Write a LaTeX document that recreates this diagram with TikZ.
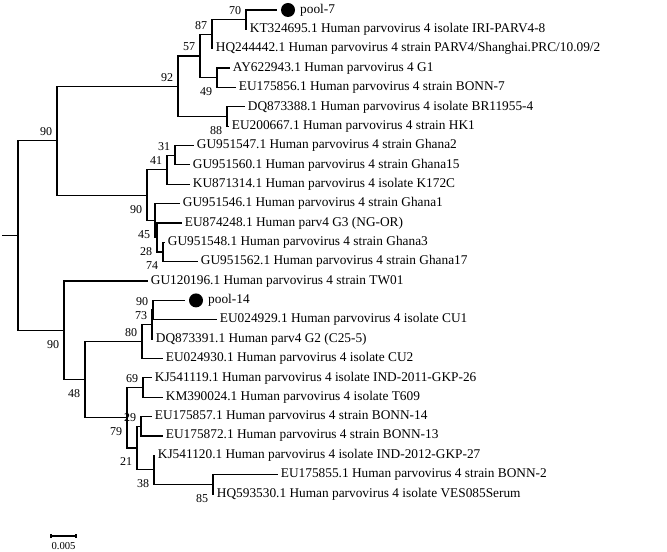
\documentclass[tikz,border=0pt]{standalone}
\usepackage{fontspec}
\setmainfont{Liberation Serif}
\usetikzlibrary{positioning}

\begin{document}
\begin{tikzpicture}[
    x=0.75pt, y=-0.75pt,
    branch/.style={line width=0.9pt},
    leaf/.style={anchor=west, inner sep=2pt, font=\fontsize{10}{12}\selectfont},
    sample/.style={circle, fill=black, minimum size=10.5pt, inner sep=0pt},
    boot above/.style={anchor=east, inner sep=1pt, xshift=-2.4pt, yshift=6.75pt, font=\fontsize{9}{10}\selectfont},
    boot below/.style={anchor=east, inner sep=1pt, xshift=-2.4pt, yshift=-10.5pt, font=\fontsize{9}{10}\selectfont}
]
\useasboundingbox (0,0) rectangle (667,552);

% Internal nodes
\coordinate (stub) at (2,235.5);
\coordinate (root) at (18,235.5);
\coordinate (nA) at (57,140.68);
\coordinate (n92) at (178,86.23);
\coordinate (n57) at (200,55.98);
\coordinate (n87) at (212,34.2);
\coordinate (n70) at (246,19.68);
\coordinate (n49) at (217,77.76);
\coordinate (n88) at (227,116.48);
\coordinate (n90g) at (147,195.13);
\coordinate (n41) at (167,169.72);
\coordinate (n31) at (175,155.2);
\coordinate (n45) at (155,220.54);
\coordinate (n28) at (157,237.48);
\coordinate (n74) at (163,252);
\coordinate (nB) at (64,330.35);
\coordinate (n48) at (85,379.66);
\coordinate (n80) at (142,341.54);
\coordinate (n73) at (152,324.6);
\coordinate (n90p) at (153,310.08);
\coordinate (n79) at (127,417.77);
\coordinate (n69) at (143,387.52);
\coordinate (n21) at (137,448.02);
\coordinate (n29) at (141,426.24);
\coordinate (n38) at (154,469.8);
\coordinate (n85) at (213,484.32);

% Leaves
\node[sample] (dot7) at (288,10) {};
\node[leaf, right=1.5pt of dot7] (pool7) {pool-7};
\node[leaf] (kt324695) at (247,29.36) {KT324695.1 Human parvovirus 4 isolate IRI-PARV4-8};
\node[leaf] (hq244442) at (213,48.72) {HQ244442.1 Human parvovirus 4 strain PARV4/Shanghai.PRC/10.09/2};
\node[leaf] (ay622943) at (230,68.08) {AY622943.1 Human parvovirus 4 G1};
\node[leaf] (eu175856) at (236,87.44) {EU175856.1 Human parvovirus 4 strain BONN-7};
\node[leaf] (dq873388) at (245,106.8) {DQ873388.1 Human parvovirus 4 isolate BR11955-4};
\node[leaf] (eu200667) at (229,126.16) {EU200667.1 Human parvovirus 4 strain HK1};
\node[leaf] (gu951547) at (194,145.52) {GU951547.1 Human parvovirus 4 strain Ghana2};
\node[leaf] (gu951560) at (190,164.88) {GU951560.1 Human parvovirus 4 strain Ghana15};
\node[leaf] (ku871314) at (190,184.24) {KU871314.1 Human parvovirus 4 isolate K172C};
\node[leaf] (gu951546) at (180,203.6) {GU951546.1 Human parvovirus 4 strain Ghana1};
\node[leaf] (eu874248) at (182,222.96) {EU874248.1 Human parv4 G3 (NG-OR)};
\node[leaf] (gu951548) at (165,242.32) {GU951548.1 Human parvovirus 4 strain Ghana3};
\node[leaf] (gu951562) at (198,261.68) {GU951562.1 Human parvovirus 4 strain Ghana17};
\node[leaf] (gu120196) at (148,281.04) {GU120196.1 Human parvovirus 4 strain TW01};
\node[sample] (dot14) at (196,300.4) {};
\node[leaf, right=1.5pt of dot14] (pool14) {pool-14};
\node[leaf] (eu024929) at (217,319.76) {EU024929.1 Human parvovirus 4 isolate CU1};
\node[leaf] (dq873391) at (153,339.12) {DQ873391.1 Human parv4 G2 (C25-5)};
\node[leaf] (eu024930) at (163,358.48) {EU024930.1 Human parvovirus 4 isolate CU2};
\node[leaf] (kj541119) at (152,377.84) {KJ541119.1 Human parvovirus 4 isolate IND-2011-GKP-26};
\node[leaf] (km390024) at (163,397.2) {KM390024.1 Human parvovirus 4 isolate T609};
\node[leaf] (eu175857) at (152,416.56) {EU175857.1 Human parvovirus 4 strain BONN-14};
\node[leaf] (eu175872) at (163,435.92) {EU175872.1 Human parvovirus 4 strain BONN-13};
\node[leaf] (kj541120) at (155,455.28) {KJ541120.1 Human parvovirus 4 isolate IND-2012-GKP-27};
\node[leaf] (eu175855) at (278,474.64) {EU175855.1 Human parvovirus 4 strain BONN-2};
\node[leaf] (hq593530) at (214,494) {HQ593530.1 Human parvovirus 4 isolate VES085Serum};

% Branches
\draw[branch] (stub) -- (root);
\draw[branch] (root) |- (nA);
\draw[branch] (root) |- (nB);
\draw[branch] (nA) |- (n92);
\draw[branch] (nA) |- (n90g);
\draw[branch] (n92) |- (n57);
\draw[branch] (n92) |- (n88);
\draw[branch] (n57) |- (n87);
\draw[branch] (n57) |- (n49);
\draw[branch] (n87) |- (n70);
\draw[branch] (n87) |- (hq244442);
\draw[branch, shorten >=3pt] (n70) |- (dot7);
\draw[branch] (n70) |- (kt324695);
\draw[branch] (n49) |- (ay622943);
\draw[branch] (n49) |- (eu175856);
\draw[branch] (n88) |- (dq873388);
\draw[branch] (n88) |- (eu200667);
\draw[branch] (n90g) |- (n41);
\draw[branch] (n90g) |- (n45);
\draw[branch] (n41) |- (n31);
\draw[branch] (n41) |- (ku871314);
\draw[branch] (n31) |- (gu951547);
\draw[branch] (n31) |- (gu951560);
\draw[branch] (n45) |- (gu951546);
\draw[branch] (n45) |- (n28);
\draw[branch] (n28) |- (eu874248);
\draw[branch] (n28) |- (n74);
\draw[branch] (n74) |- (gu951548);
\draw[branch] (n74) |- (gu951562);
\draw[branch] (nB) |- (gu120196);
\draw[branch] (nB) |- (n48);
\draw[branch] (n48) |- (n80);
\draw[branch] (n48) |- (n79);
\draw[branch] (n80) |- (n73);
\draw[branch] (n80) |- (eu024930);
\draw[branch] (n73) |- (n90p);
\draw[branch] (n73) |- (dq873391);
\draw[branch, shorten >=3pt] (n90p) |- (dot14);
\draw[branch] (n90p) |- (eu024929);
\draw[branch] (n79) |- (n69);
\draw[branch] (n79) |- (n21);
\draw[branch] (n69) |- (kj541119);
\draw[branch] (n69) |- (km390024);
\draw[branch] (n21) |- (n29);
\draw[branch] (n21) |- (n38);
\draw[branch] (n29) |- (eu175857);
\draw[branch] (n29) |- (eu175872);
\draw[branch] (n38) |- (kj541120);
\draw[branch] (n38) |- (n85);
\draw[branch] (n85) |- (eu175855);
\draw[branch] (n85) |- (hq593530);

% Bootstrap values
\node[boot above] (b70) at (n70) {70};
\node[boot above] (b87) at (n87) {87};
\node[boot above] (b57) at (n57) {57};
\node[boot below] (b49) at (n49) {49};
\node[boot above] (b92) at (n92) {92};
\node[boot below] (b88) at (n88) {88};
\node[boot above] (bA) at (nA) {90};
\node[boot above] (b31) at (n31) {31};
\node[boot above] (b41) at (n41) {41};
\node[boot below] (b90g) at (n90g) {90};
\node[boot below] (b45) at (n45) {45};
\node[boot below] (b28) at (n28) {28};
\node[boot below] (b74) at (n74) {74};
\node[boot below] (bB) at (nB) {90};
\node[boot above] (b90p) at (n90p) {90};
\node[boot above] (b73) at (n73) {73};
\node[boot above] (b80) at (n80) {80};
\node[boot below] (b48) at (n48) {48};
\node[boot above] (b69) at (n69) {69};
\node[boot below] (b79) at (n79) {79};
\node[boot above] (b29) at (n29) {29};
\node[boot below] (b21) at (n21) {21};
\node[boot below] (b38) at (n38) {38};
\node[boot below] (b85) at (n85) {85};

% Scale bar
\coordinate (sb1) at (51,536);
\coordinate (sb2) at (76,536);
\draw[branch] ([yshift=1.5pt]sb1) -- ([yshift=-1.5pt]sb1);
\draw[branch] ([yshift=1.5pt]sb2) -- ([yshift=-1.5pt]sb2);
\draw[branch] (sb1) -- (sb2);
\node[font=\fontsize{8}{9}\selectfont, inner sep=1pt] (sblabel) at (63.5,546) {0.005};

\end{tikzpicture}
\end{document}
